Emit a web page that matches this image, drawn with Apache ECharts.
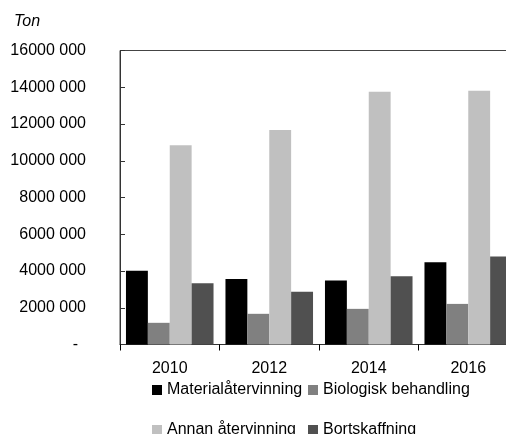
<!DOCTYPE html>
<html>
<head>
<meta charset="utf-8">
<script src="https://cdn.jsdelivr.net/npm/echarts@6/dist/echarts.min.js"></script>
<style>
  html, body { margin: 0; padding: 0; background: #fff; }
  #chart { width: 506px; height: 434px; }
</style>
</head>
<body>
<div id="chart"></div>
<script>
// data
const years = ["2010", "2012", "2014", "2016"];
const materialatervinning = [4010000, 3560000, 3480000, 4480000];
const biologisk = [1180000, 1670000, 1940000, 2210000];
const annan = [10850000, 11680000, 13750000, 13810000];
const bortskaffning = [3340000, 2870000, 3720000, 4790000];

const FONT = '"Liberation Sans", Arial, sans-serif';
const SIZE = 16;

const chart = echarts.init(document.getElementById("chart"));

const barSeries = (name, data, color) => ({
  name: name,
  type: "bar",
  data: data,
  barGap: 0,
  barCategoryGap: "12%",
  itemStyle: { color: color },
  animation: false,
});

const legendItem = (name, left, top) => ({
  left: left,
  top: top,
  data: [name],
  icon: "rect",
  itemWidth: 10,
  itemHeight: 10,
  itemGap: 5,
  textStyle: { fontFamily: FONT, fontSize: SIZE, color: "#000" },
});

chart.setOption({
  backgroundColor: "#fff",
  title: {
    text: "Ton",
    left: 9,
    top: 9,
    textStyle: { fontFamily: FONT, fontStyle: "italic", fontWeight: "normal", fontSize: 16, color: "#000" },
  },
  grid: {
    left: 120,
    top: 50.5,
    right: -12,
    bottom: 89.5,
    containLabel: false,
    outerBoundsMode: "none",
    show: true,
    borderColor: "#444",
    borderWidth: 1,
  },
  legend: [
    legendItem("Materialåtervinning", 147, 377),
    legendItem("Biologisk behandling", 303, 377),
    legendItem("Annan återvinning", 147, 417),
    legendItem("Bortskaffning", 303, 417),
  ],
  xAxis: {
    type: "category",
    data: years,
    axisLine: { lineStyle: { color: "#333", width: 1 } },
    axisTick: { show: true, length: 6, lineStyle: { color: "#000" } },
    axisLabel: { fontFamily: FONT, fontSize: SIZE, color: "#000", margin: 16 },
  },
  yAxis: {
    type: "value",
    min: 0,
    max: 16000000,
    interval: 2000000,
    splitLine: { show: false },
    axisLine: { show: true, lineStyle: { color: "#333", width: 1 } },
    axisTick: { show: true, inside: true, length: 5, lineStyle: { color: "#333" } },
    axisLabel: {
      fontFamily: FONT,
      fontSize: SIZE,
      color: "#000",
      margin: 34,
      formatter: (v) => (v === 0 ? "{d|-}" : Math.round(v / 1000) + " 000"),
      rich: { d: { fontFamily: FONT, fontSize: SIZE, color: "#000", padding: [0, 8, 0, 0] } },
    },
  },
  series: [
    barSeries("Materialåtervinning", materialatervinning, "#000000"),
    barSeries("Biologisk behandling", biologisk, "#808080"),
    barSeries("Annan återvinning", annan, "#c0c0c0"),
    barSeries("Bortskaffning", bortskaffning, "#505050"),
  ],
});
</script>
</body>
</html>
